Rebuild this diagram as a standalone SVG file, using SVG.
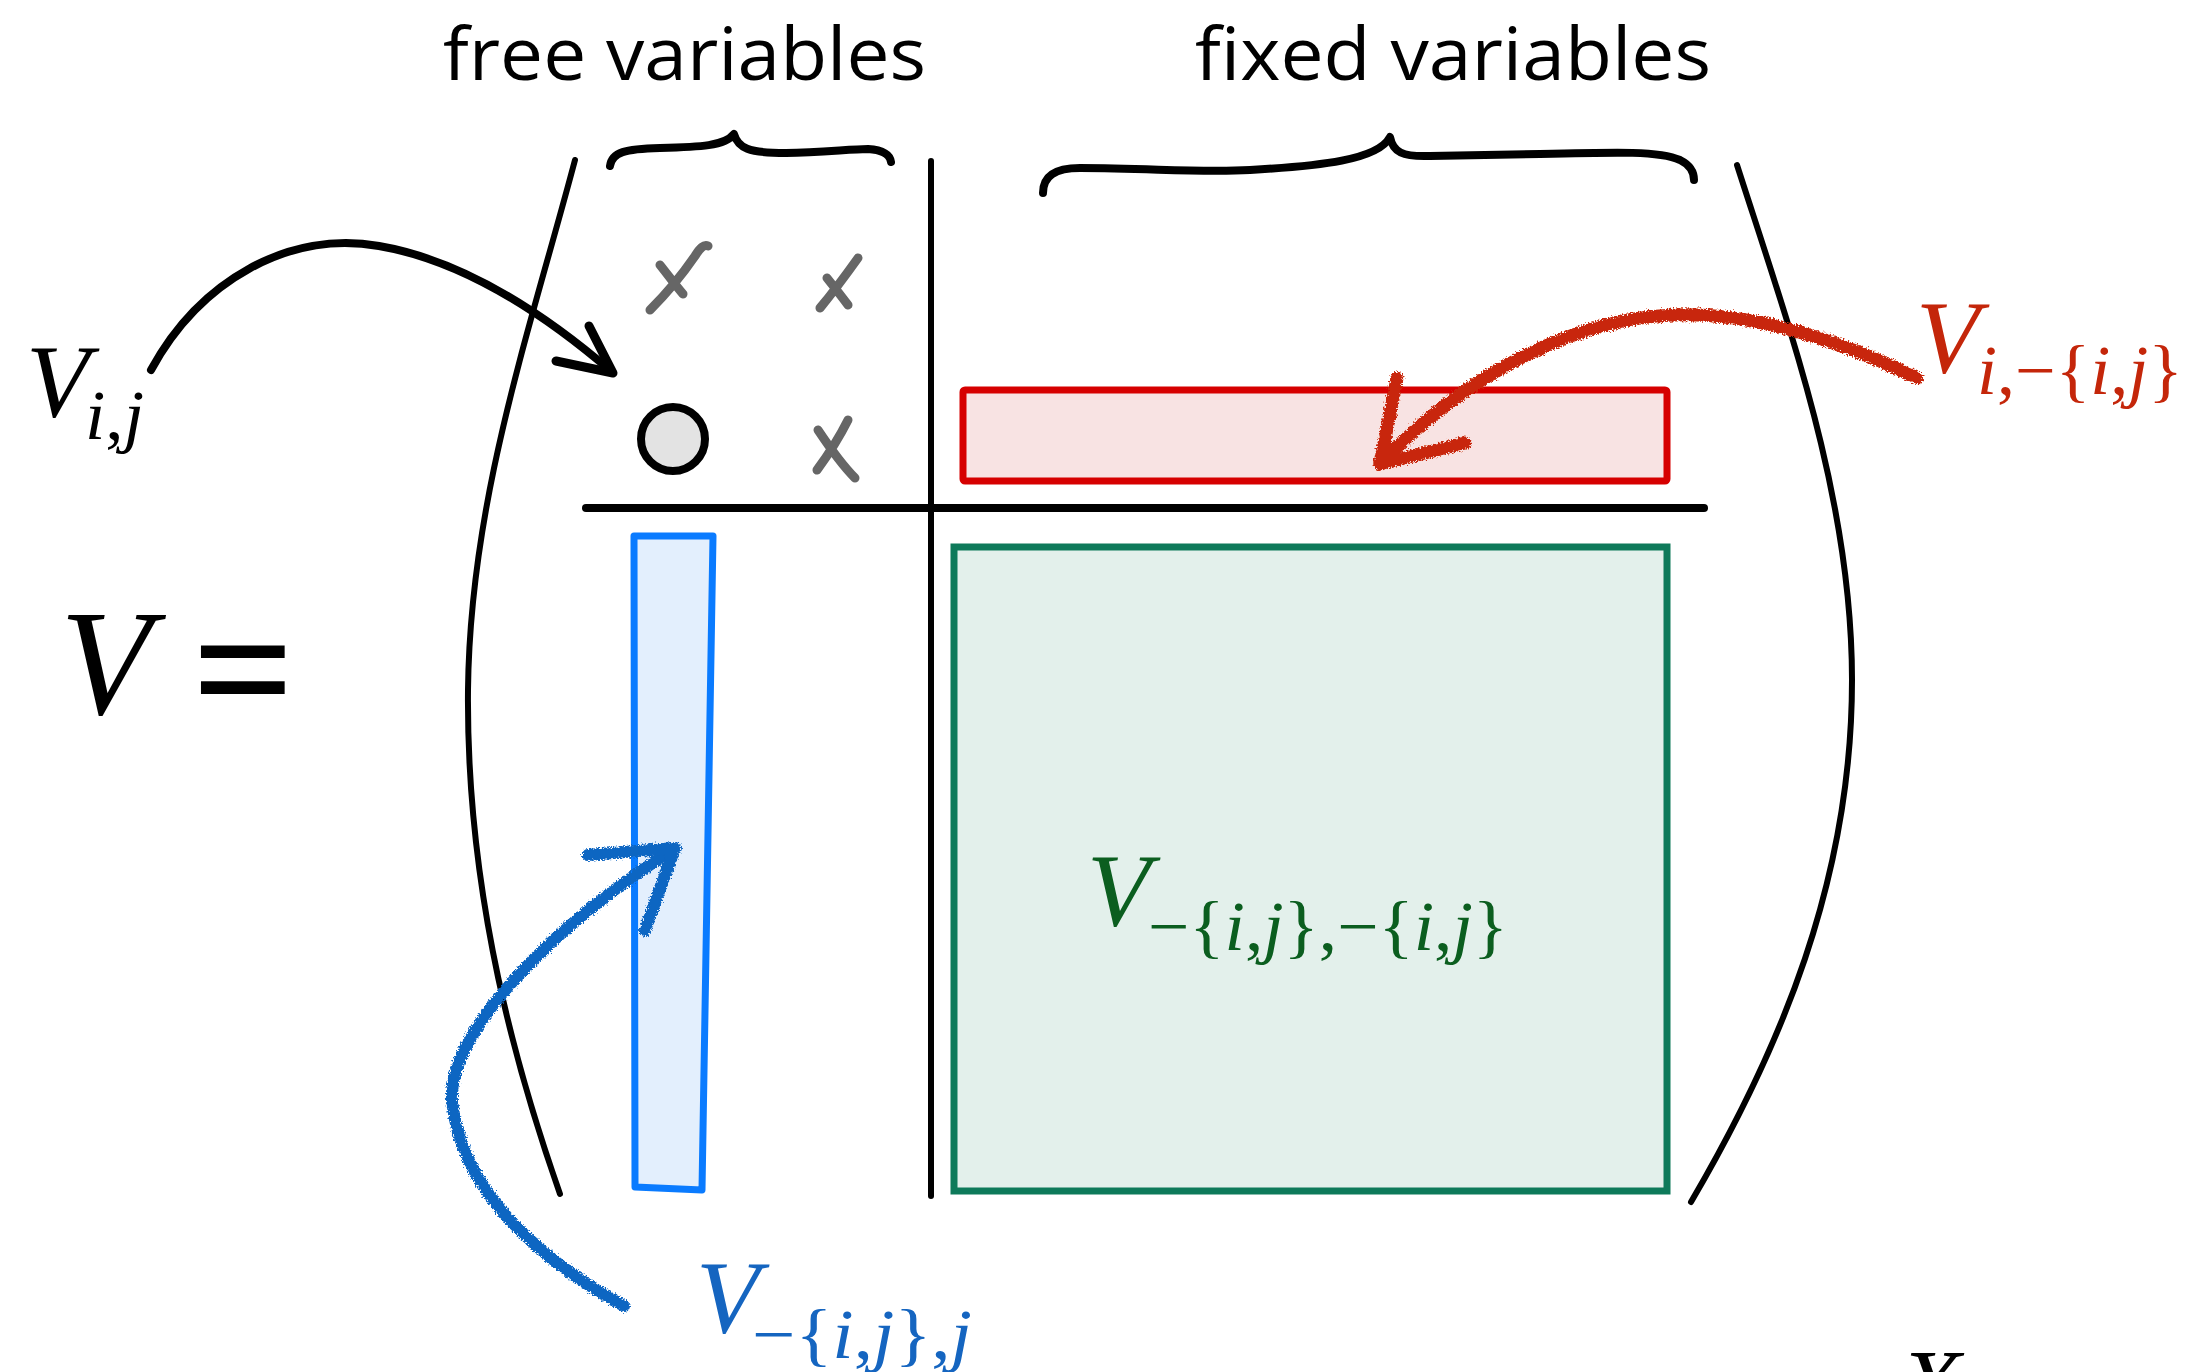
<svg xmlns="http://www.w3.org/2000/svg" width="2193" height="1372" viewBox="0 0 2193 1372">
<style>
.hdr{font-family:"Open Sans","Liberation Sans",sans-serif;font-size:74px;font-weight:400;fill:#000}
.m{font-family:"Liberation Serif","Times New Roman",serif}
.it{font-style:italic}
.ink{fill:none;stroke:#000;stroke-linecap:round;stroke-linejoin:round}
.xm{fill:none;stroke:#666;stroke-width:9;stroke-linecap:round;stroke-linejoin:round}
</style>
<defs>
<filter id="rough" x="-5%" y="-5%" width="110%" height="110%">
<feTurbulence type="fractalNoise" baseFrequency="0.6" numOctaves="2" seed="4" result="n"/>
<feDisplacementMap in="SourceGraphic" in2="n" scale="7" xChannelSelector="R" yChannelSelector="G"/>
</filter>
</defs>
<rect width="2193" height="1372" fill="#fff"/>

<g id="headers">
<text class="hdr" x="443" y="80" textLength="483" lengthAdjust="spacingAndGlyphs">free variables</text>
<text class="hdr" x="1195" y="80" textLength="516" lengthAdjust="spacingAndGlyphs">fixed variables</text>
</g>

<g id="braces">
<path class="ink" stroke-width="8" d="M610,166 C612,152 625,149 660,148 C700,147 725,146 734,134 C738,148 748,153 786,153 C820,153 850,149 868,149 C884,150 890,155 891,162"/>
<path class="ink" stroke-width="8" d="M1043,193 C1043,176 1055,168 1080,168 C1150,168 1200,173 1250,170 C1320,166 1378,160 1390,137 C1393,152 1402,157 1430,156 L1540,154 C1620,152 1660,151 1680,160 C1690,165 1694,172 1694,180"/>
</g>

<g id="matrix-frame">
<path class="ink" stroke-width="6" d="M575,160 C530,330 470,500 468,690 C466,900 520,1080 560,1194"/>
<path class="ink" stroke-width="6" d="M1737,165 C1790,330 1852,500 1852,680 C1852,880 1780,1050 1691,1202"/>
<line class="ink" stroke-width="6" x1="931" y1="161" x2="931" y2="1196"/>
<line class="ink" stroke-width="8" x1="586" y1="508" x2="1704" y2="508"/>
</g>

<g id="equation">
<text class="m it" x="60" y="714" font-size="150">V</text>
<text class="m" x="192" y="730" font-size="180" font-weight="bold">=</text>
</g>

<g id="entries">
<path class="xm" d="M708,246 C704,244 700,248 695,256 C682,275 664,296 650,310 M660,265 C668,275 676,286 683,294"/>
<path class="xm" d="M858,258 C848,272 835,290 820,308 M827,278 C835,288 842,297 848,305"/>
<path class="xm" d="M848,420 C840,436 828,455 817,470 M818,430 C830,448 843,466 855,478"/>
<circle id="vij-cell" cx="673" cy="439" r="32" fill="#e3e3e3" stroke="#000" stroke-width="8"/>
</g>

<g id="row-block">
<rect x="963" y="390" width="704" height="91" rx="2" fill="#f8e3e3" stroke="#d60000" stroke-width="7"/>
</g>
<g id="col-block">
<polygon points="634,536 713,536 702,1190 635,1187" fill="#e3effd" stroke="#0a7bff" stroke-width="7" stroke-linejoin="round"/>
</g>
<g id="rest-block">
<rect x="954" y="547" width="713" height="644" fill="#e3f0eb" stroke="#0e7a5a" stroke-width="7"/>
</g>

<g id="connectors">
<path class="ink" stroke-width="8" d="M151,370 C200,280 290,230 379,246 C460,260 540,310 612,372"/>
<path class="ink" stroke-width="9" d="M589,326 L613,373 L556,361"/>
<g filter="url(#rough)" fill="none" stroke-linecap="round" stroke-linejoin="round">
<path stroke="#c8280a" stroke-width="13" d="M1917,378 C1850,345 1760,312 1674,315 C1580,318 1470,370 1380,464"/>
<path stroke="#c8280a" stroke-width="13" d="M1397,378 L1380,464 L1465,443"/>
<path stroke="#1066c2" stroke-width="12" d="M624,1306 C540,1260 460,1190 452,1100 C448,1030 560,920 673,850"/>
<path stroke="#1066c2" stroke-width="12" d="M588,855 L675,848 L645,930"/>
</g>
</g>

<g id="label-vij">
<text class="m it" x="26" y="416" font-size="104">V</text>
<text class="m" x="85" y="439" font-size="70" textLength="59" lengthAdjust="spacingAndGlyphs"><tspan class="it">i</tspan>,<tspan class="it">j</tspan></text>
</g>
<g id="label-row" fill="#c4260a">
<text class="m it" x="1916" y="372" font-size="104">V</text>
<text class="m" x="1977" y="394" font-size="70" textLength="206" lengthAdjust="spacingAndGlyphs"><tspan class="it">i</tspan>,−{<tspan class="it">i</tspan>,<tspan class="it">j</tspan>}</text>
</g>
<g id="label-col" fill="#1565c0">
<text class="m it" x="696" y="1332" font-size="104">V</text>
<text class="m" x="752" y="1358" font-size="70" textLength="220" lengthAdjust="spacingAndGlyphs">−{<tspan class="it">i</tspan>,<tspan class="it">j</tspan>},<tspan class="it">j</tspan></text>
</g>
<g id="label-rest" fill="#0b5e1f">
<text class="m it" x="1087" y="925" font-size="104">V</text>
<text class="m" x="1148" y="950" font-size="70" textLength="360" lengthAdjust="spacingAndGlyphs">−{<tspan class="it">i</tspan>,<tspan class="it">j</tspan>},−{<tspan class="it">i</tspan>,<tspan class="it">j</tspan>}</text>
</g>
<g id="label-cut">
<text class="m it" x="1900" y="1418" font-size="100">X</text>
</g>
</svg>
